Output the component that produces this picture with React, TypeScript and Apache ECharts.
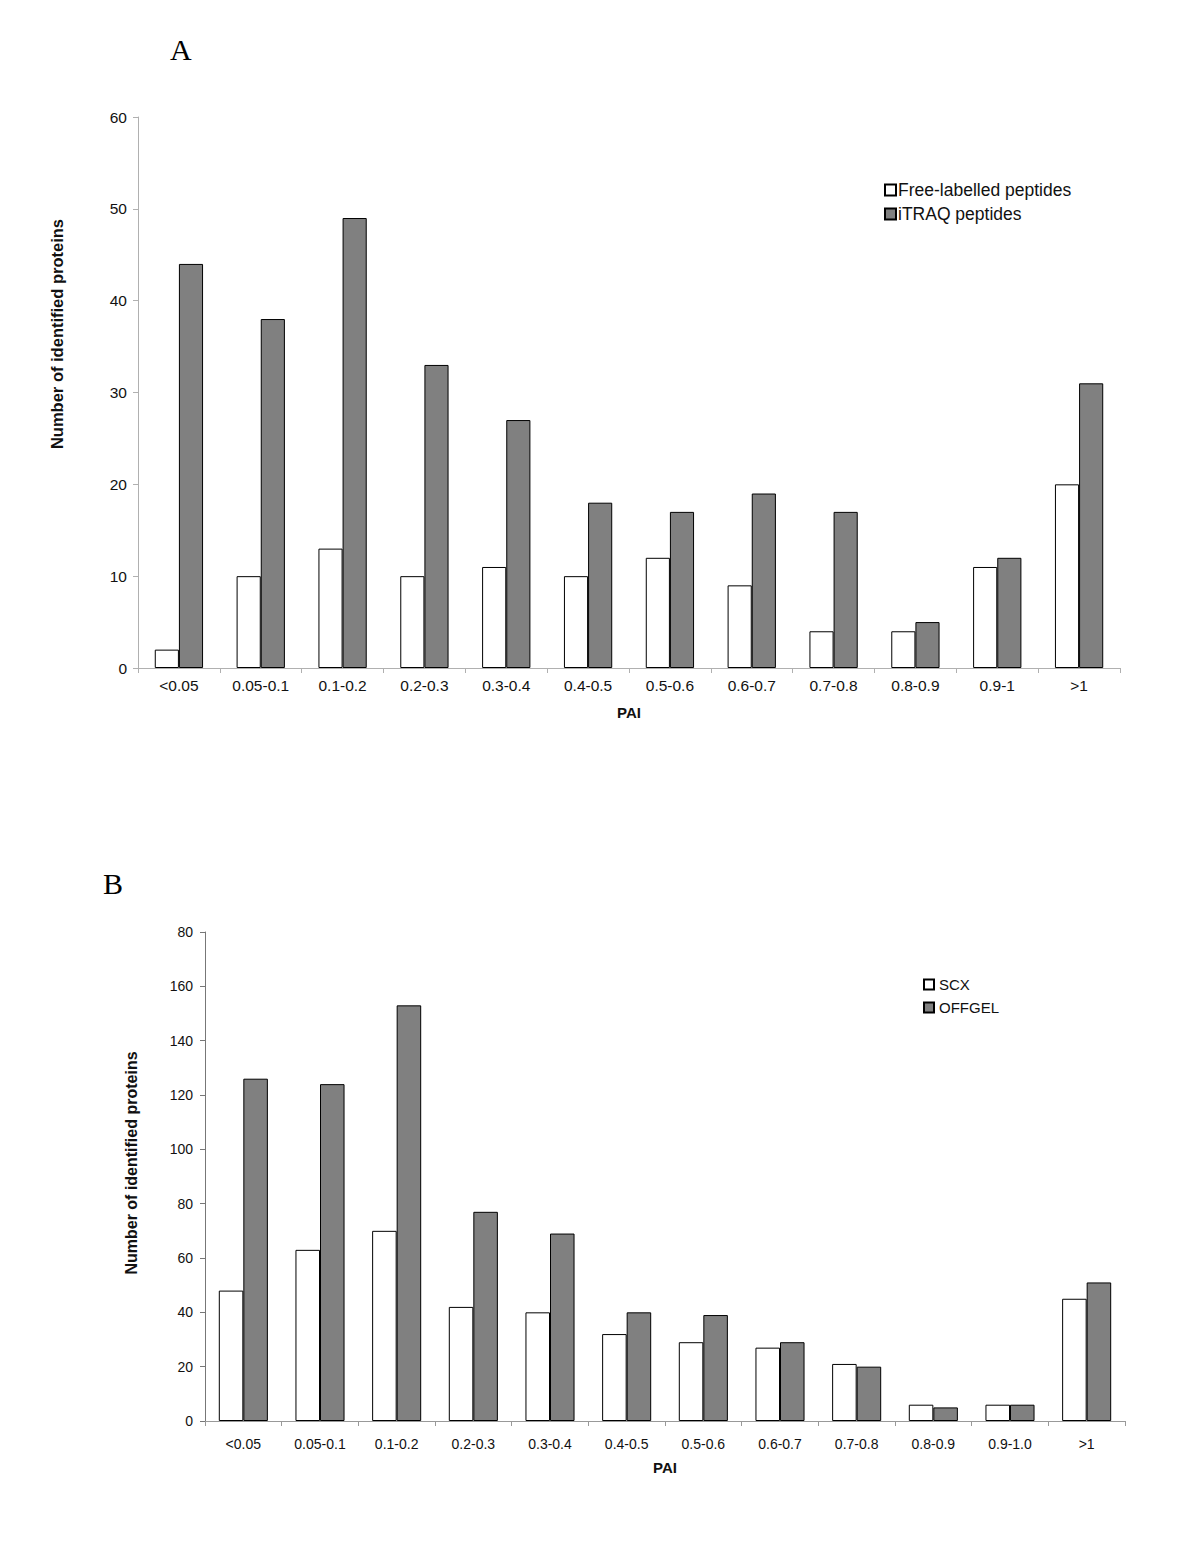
import React, { useEffect, useRef } from "react";
import * as echarts from "echarts";

const categoriesA = ["<0.05", "0.05-0.1", "0.1-0.2", "0.2-0.3", "0.3-0.4", "0.4-0.5", "0.5-0.6", "0.6-0.7", "0.7-0.8", "0.8-0.9", "0.9-1", ">1"];
const freeLabelled = [2, 10, 13, 10, 11, 10, 12, 9, 4, 4, 11, 20];
const itraq = [44, 38, 49, 33, 27, 18, 17, 19, 17, 5, 12, 31];

const categoriesB = ["<0.05", "0.05-0.1", "0.1-0.2", "0.2-0.3", "0.3-0.4", "0.4-0.5", "0.5-0.6", "0.6-0.7", "0.7-0.8", "0.8-0.9", "0.9-1.0", ">1"];
const scx = [48, 63, 70, 42, 40, 32, 29, 27, 21, 6, 6, 45];
const offgel = [126, 124, 153, 77, 69, 40, 39, 29, 20, 5, 6, 51];

const FONT = "Liberation Sans, Arial, sans-serif";
const GRAY = "#808080";
const YNAME = "Number of identified proteins";

export default function App() {
  const ref = useRef<HTMLDivElement>(null);
  useEffect(() => {
    const chart = echarts.init(ref.current!, null, { renderer: "svg" });
    const barStyleWhite = { color: "#ffffff", borderColor: "#000", borderWidth: 1 };
    const barStyleGray = { color: GRAY, borderColor: "#000", borderWidth: 1 };
    const xAxisCommon = (cats: string[], gridIndex: number, gap: number, axisColor: string, fs: number, margin: number) => ({
      type: "category",
      gridIndex,
      data: cats,
      name: "PAI",
      nameLocation: "middle",
      nameGap: gap,
      nameTextStyle: { fontFamily: FONT, fontWeight: "bold", fontSize: 15, color: "#111" },
      axisLine: { lineStyle: { color: axisColor, width: 1 } },
      axisTick: { show: true, length: 5, lineStyle: { color: axisColor } },
      axisLabel: { fontFamily: FONT, fontSize: fs, color: "#111", margin, interval: 0 },
      splitLine: { show: false },
    });
    chart.setOption({
      animation: false,
      backgroundColor: "#ffffff",
      graphic: [
        { type: "text", left: 170, top: 34, style: { text: "A", font: "30px 'Liberation Serif', 'DejaVu Serif', serif", fill: "#000" } },
        { type: "text", left: 103, top: 868, style: { text: "B", font: "30px 'Liberation Serif', 'DejaVu Serif', serif", fill: "#000" } },
        {
          type: "text",
          x: 57,
          y: 334,
          rotation: Math.PI / 2,
          style: { text: YNAME, font: "bold 16.5px 'Liberation Sans', Arial, sans-serif", fill: "#111", align: "center", verticalAlign: "middle" },
        },
        {
          type: "text",
          x: 131,
          y: 1163,
          rotation: Math.PI / 2,
          style: { text: YNAME, font: "bold 16px 'Liberation Sans', Arial, sans-serif", fill: "#111", align: "center", verticalAlign: "middle" },
        },
      ],
      legend: [
        {
          data: ["Free-labelled peptides", "iTRAQ peptides"],
          left: 879,
          top: 176,
          orient: "vertical",
          itemWidth: 11,
          itemHeight: 11,
          itemGap: 6,
          icon: "rect",
          textStyle: { fontFamily: FONT, fontSize: 17.5, color: "#111", padding: [0, 0, 0, -3] },
        },
        {
          data: ["SCX", "OFFGEL"],
          left: 918,
          top: 972,
          orient: "vertical",
          itemWidth: 10,
          itemHeight: 10,
          itemGap: 8,
          icon: "rect",
          textStyle: { fontFamily: FONT, fontSize: 15, color: "#111" },
        },
      ],
      grid: [
        { left: 138, top: 117, width: 982, height: 551 },
        { left: 205, top: 932, width: 920, height: 489 },
      ],
      xAxis: [
        xAxisCommon(categoriesA, 0, 37, "#b0b0b0", 15.5, 9),
        xAxisCommon(categoriesB, 1, 39, "#999999", 14, 16),
      ],
      yAxis: [
        {
          type: "value",
          gridIndex: 0,
          min: 0,
          max: 60,
          interval: 10,
          axisLine: { show: true, lineStyle: { color: "#b0b0b0" } },
          axisTick: { show: true, length: 5, lineStyle: { color: "#b0b0b0" } },
          axisLabel: { fontFamily: FONT, fontSize: 15.5, color: "#111", margin: 11 },
          splitLine: { show: false },
        },
        {
          type: "value",
          gridIndex: 1,
          min: 0,
          max: 180,
          interval: 20,
          axisLine: { show: true, lineStyle: { color: "#777777" } },
          axisTick: { show: true, length: 5, lineStyle: { color: "#777777" } },
          axisLabel: {
            fontFamily: FONT,
            fontSize: 14,
            color: "#111",
            margin: 12,
            formatter: (v: number) => (v === 180 ? "80" : String(v)),
          },
          splitLine: { show: false },
        },
      ],
      series: [
        { name: "Free-labelled peptides", type: "bar", xAxisIndex: 0, yAxisIndex: 0, data: freeLabelled, itemStyle: barStyleWhite, barGap: "0%", barCategoryGap: "41%" },
        { name: "iTRAQ peptides", type: "bar", xAxisIndex: 0, yAxisIndex: 0, data: itraq, itemStyle: barStyleGray, barGap: "0%", barCategoryGap: "41%" },
        { name: "SCX", type: "bar", xAxisIndex: 1, yAxisIndex: 1, data: scx, itemStyle: barStyleWhite, barGap: "0%", barCategoryGap: "36%" },
        { name: "OFFGEL", type: "bar", xAxisIndex: 1, yAxisIndex: 1, data: offgel, itemStyle: barStyleGray, barGap: "0%", barCategoryGap: "36%" },
      ],
    });
    return () => chart.dispose();
  }, []);
  return <div ref={ref} style={{ position: "fixed", left: 0, top: 0, width: 1200, height: 1543 }} />;
}
